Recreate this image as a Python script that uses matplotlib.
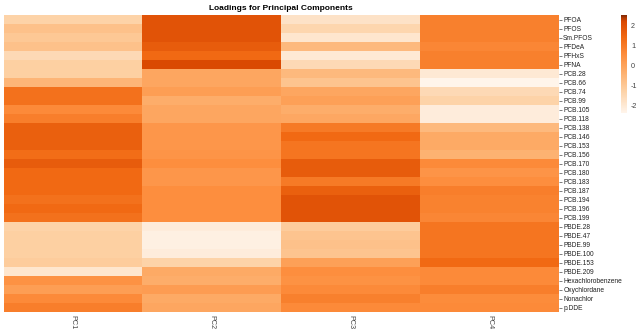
import numpy as np
import matplotlib.pyplot as plt
from matplotlib.colors import LinearSegmentedColormap

plt.rcParams['font.family'] = ['Liberation Sans', 'DejaVu Sans']
plt.rcParams['axes.unicode_minus'] = False

chemicals = ["PFOA", "PFOS", "Sm.PFOS", "PFDeA", "PFHxS", "PFNA",
             "PCB.28", "PCB.66", "PCB.74", "PCB.99", "PCB.105", "PCB.118",
             "PCB.138", "PCB.146", "PCB.153", "PCB.156", "PCB.170", "PCB.180",
             "PCB.183", "PCB.187", "PCB.194", "PCB.196", "PCB.199",
             "PBDE.28", "PBDE.47", "PBDE.99", "PBDE.100", "PBDE.153", "PBDE.209",
             "Hexachlorobenzene", "Oxychlordane", "Nonachlor", "p.DDE"]
components = ["PC1", "PC2", "PC3", "PC4"]

pc1 = [-1.3, -0.8, -1.0, -0.8, -1.5, -1.2, -1.2, -0.5, 1.2, 1.2, 0.6, 0.9,
       1.6, 1.6, 1.6, 1.3, 1.7, 1.4, 1.4, 1.4, 1.2, 1.4, 1.2,
       -1.3, -1.2, -1.2, -1.2, -1.1, -1.9, 0.4, 0.1, 0.6, 0.9]
pc2 = [1.9, 1.9, 1.9, 1.7, 1.4, 2.15, -0.1, -0.1, 0.1, -0.3, -0.1, -0.1,
       0.3, 0.3, 0.3, 0.35, 0.5, 0.3, 0.3, 0.5, 0.5, 0.5, 0.5,
       -2.1, -2.2, -2.2, -2.1, -1.3, -0.2, -0.3, 0.15, -0.2, -0.1]
pc3 = [-1.8, -1.4, -1.9, -0.6, -2.0, -1.5, -0.6, -0.9, -0.1, 0.05, -0.3, -0.15,
       1.0, 1.4, 1.1, 1.1, 1.7, 1.7, 1.0, 1.6, 1.9, 1.9, 1.9,
       -1.1, -0.9, -0.8, -0.9, 0.05, 0.5, 0.4, 0.6, 0.85, 0.6]
pc4 = [0.85, 0.85, 0.85, 0.7, 0.85, 0.85, -2.0, -2.35, -1.5, -1.3, -2.1, -2.1,
       -0.6, -0.2, -0.2, -0.4, 0.6, 0.35, 0.5, 0.9, 0.8, 0.8, 0.7,
       1.1, 1.1, 1.1, 1.1, 1.4, 0.6, 0.6, 0.9, 0.55, 0.6]

vmin, vmax = -2.35, 2.5
nodes = [(-2.35, "#fff5eb"), (-1.9, "#fee6ce"), (-1.2, "#fdd0a2"), (-0.3, "#fdae6b"),
         (0.55, "#fd8d3c"), (1.4, "#f16913"), (2.2, "#d94801"), (2.4, "#a63603"),
         (2.5, "#7f2704")]
cmap = LinearSegmentedColormap.from_list(
    "load", [((v - vmin) / (vmax - vmin), c) for v, c in nodes])

data = np.array([pc1, pc2, pc3, pc4]).T

fig = plt.figure(figsize=(6.4, 3.3), dpi=100)
ax = fig.add_axes([4 / 640, 1 - 312 / 330, 555 / 640, 297 / 330])
im = ax.imshow(data, cmap=cmap, vmin=vmin, vmax=vmax, aspect='auto',
               interpolation='nearest')

ax.set_xticks(range(len(components)))
ax.set_xticklabels(components, rotation=-90, fontsize=5.2, color='#444444')
ax.set_yticks(range(len(chemicals)))
ax.set_yticklabels(chemicals, fontsize=4.8, color='#222222')
ax.yaxis.tick_right()
ax.tick_params(axis='y', length=2, width=0.6, color='#666666', pad=1)
ax.tick_params(axis='x', length=0, pad=2)
for s in ax.spines.values():
    s.set_visible(False)

fig.text(281 / 640, 1 - 8 / 330, "Loadings for Principal Components",
         ha='center', va='center', fontsize=6, fontweight='bold')

cax = fig.add_axes([621 / 640, 1 - 113 / 330, 6 / 640, 98 / 330])
cb = fig.colorbar(im, cax=cax, ticks=[-2, -1, 0, 1, 2])
cb.outline.set_visible(False)
cb.ax.tick_params(length=0, labelsize=5.2, labelcolor='#444444', pad=3)

fig.savefig("out.png", dpi=100)
